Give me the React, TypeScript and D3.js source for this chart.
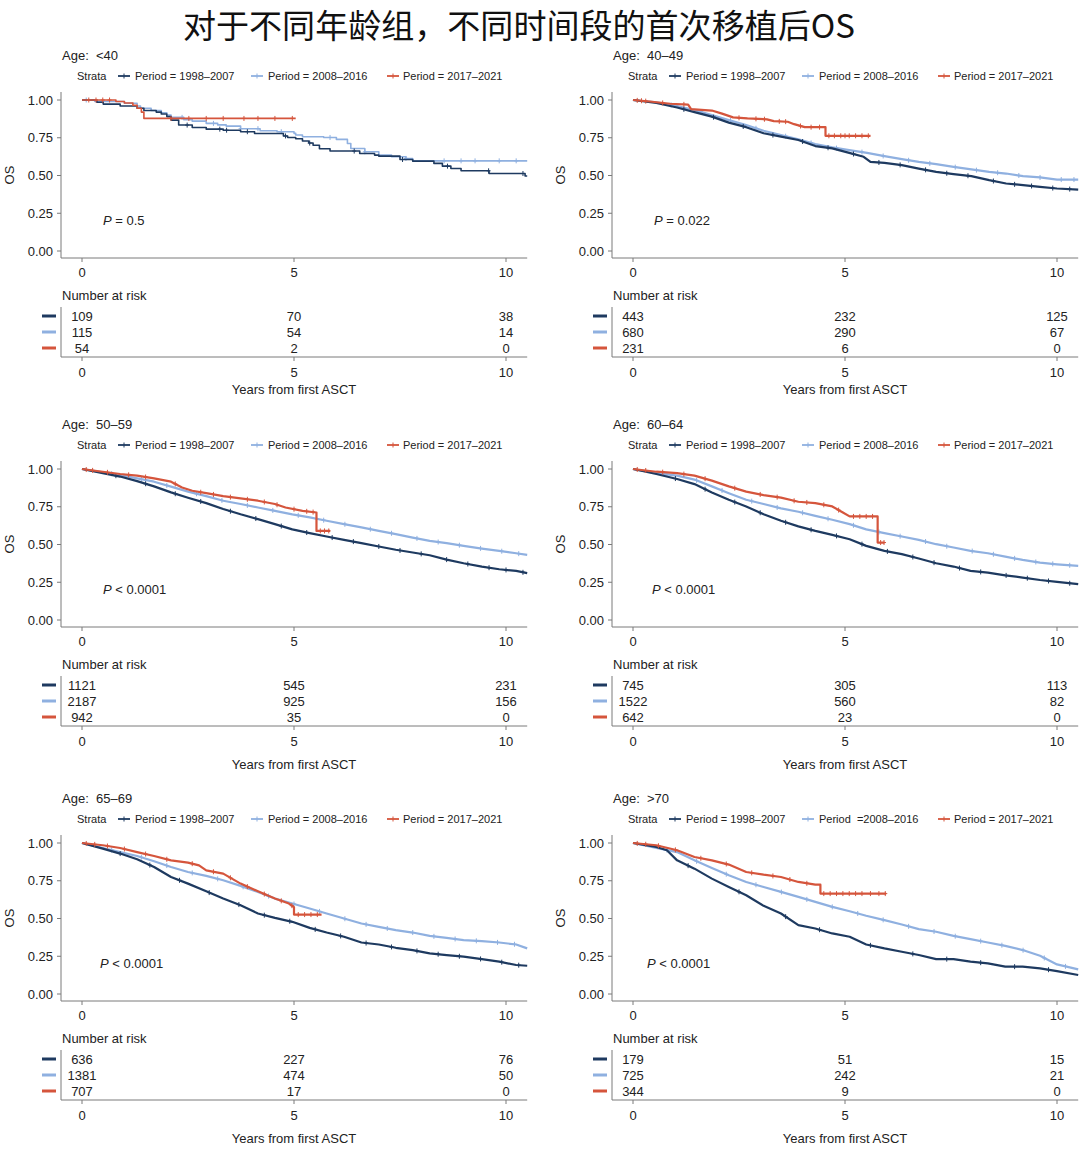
import React from 'react';
import * as d3 from 'd3';

// ---------- DATA ----------
const titleText = '对于不同年龄组，不同时间段的首次移植后OS';
const ageGroups = ['<40', '40–49', '50–59', '60–64', '65–69', '>70'];
const pSigns = ['= 0.5', '= 0.022', '< 0.0001', '< 0.0001', '< 0.0001', '< 0.0001'];
const legendLabels = ['Period = 1998–2007', 'Period = 2008–2016', 'Period = 2017–2021'];
const legendLabelsLast = ['Period = 1998–2007', 'Period  =2008–2016', 'Period = 2017–2021'];
const yTicks = [0, 0.25, 0.5, 0.75, 1];
const xTicks = [0, 5, 10];
const xLabel = 'Years from first ASCT';
const yLabel = 'OS';

// risk tables: rows = periods, cols = years 0/5/10
const risk_lt40 = [[109, 70, 38], [115, 54, 14], [54, 2, 0]];
const risk_40_49 = [[443, 232, 125], [680, 290, 67], [231, 6, 0]];
const risk_50_59 = [[1121, 545, 231], [2187, 925, 156], [942, 35, 0]];
const risk_60_64 = [[745, 305, 113], [1522, 560, 82], [642, 23, 0]];
const risk_65_69 = [[636, 227, 76], [1381, 474, 50], [707, 17, 0]];
const risk_gt70 = [[179, 51, 15], [725, 242, 21], [344, 9, 0]];

// survival curves [years, OS]
// <40 (step curves)
const lt40_a = [[0, 1], [0.35, 0.985], [0.5, 0.973], [0.9, 0.96], [1.3, 0.945], [1.46, 0.93], [1.75, 0.92], [1.87, 0.907], [2.0, 0.89], [2.1, 0.867], [2.28, 0.834], [2.6, 0.818], [2.93, 0.807], [3.33, 0.8], [3.74, 0.79], [4.07, 0.778], [4.75, 0.762], [4.85, 0.752], [5.04, 0.743], [5.2, 0.728], [5.35, 0.715], [5.45, 0.7], [5.6, 0.677], [5.85, 0.662], [6.55, 0.646], [6.9, 0.635], [7.0, 0.628], [7.5, 0.606], [7.8, 0.595], [8.3, 0.58], [8.5, 0.562], [8.7, 0.546], [8.94, 0.531], [9.6, 0.513], [10.45, 0.497], [10.5, 0.497]];
const lt40_b = [[0, 1], [0.3, 0.99], [1.0, 0.978], [1.3, 0.96], [1.38, 0.945], [1.63, 0.93], [1.87, 0.916], [2.0, 0.9], [2.1, 0.885], [2.4, 0.87], [2.6, 0.86], [2.93, 0.845], [3.2, 0.835], [3.4, 0.827], [3.74, 0.81], [4.2, 0.796], [4.6, 0.79], [5.0, 0.779], [5.04, 0.768], [5.2, 0.757], [5.7, 0.752], [6.0, 0.739], [6.26, 0.712], [6.34, 0.679], [6.67, 0.657], [7.0, 0.635], [7.3, 0.624], [7.64, 0.613], [7.8, 0.597], [10.5, 0.597]];
const lt40_c = [[0, 1], [0.8, 0.99], [1.0, 0.98], [1.2, 0.965], [1.3, 0.945], [1.4, 0.92], [1.46, 0.878], [5.04, 0.878]];
const lt40_a_cens = [2.48, 3.25, 3.41, 3.9, 4.8, 5.37, 6.42, 7.56, 8.62, 9.59, 10.4];
const lt40_b_cens = [0.1, 2.36, 3.1, 3.74, 4.15, 4.7, 5.85, 6.67, 7.64, 8.54, 8.94, 9.27, 9.84, 10.24];
const lt40_c_cens = [0.16, 0.33, 0.49, 0.65, 2.1, 2.52, 2.93, 3.33, 3.82, 4.15, 4.55, 4.96];

// 40–49
const a40_a = [[0, 1], [0.55, 0.98], [1.04, 0.95], [1.45, 0.92], [1.86, 0.89], [2.26, 0.85], [2.67, 0.82], [3.08, 0.78], [3.49, 0.757], [3.9, 0.735], [4.3, 0.695], [4.7, 0.68], [5.1, 0.65], [5.44, 0.624], [5.6, 0.59], [5.93, 0.584], [6.34, 0.569], [6.74, 0.546], [7.15, 0.524], [7.56, 0.509], [7.98, 0.496], [8.4, 0.469], [8.8, 0.447], [9.2, 0.436], [9.6, 0.425], [10.0, 0.414], [10.5, 0.407]];
const a40_b = [[0, 1], [0.55, 0.985], [1.04, 0.96], [1.45, 0.934], [1.86, 0.9], [2.26, 0.867], [2.67, 0.834], [3.08, 0.796], [3.49, 0.768], [3.9, 0.739], [4.3, 0.708], [4.7, 0.686], [5.1, 0.668], [5.52, 0.65], [5.93, 0.628], [6.34, 0.608], [6.74, 0.59], [7.15, 0.575], [7.56, 0.557], [7.98, 0.54], [8.4, 0.524], [8.8, 0.513], [9.2, 0.496], [9.6, 0.487], [10.0, 0.473], [10.5, 0.473]];
const a40_c = [[0, 1], [0.4, 0.99], [0.88, 0.975], [1.3, 0.97], [1.37, 0.94], [1.86, 0.93], [2.1, 0.91], [2.36, 0.885], [2.7, 0.878], [3.16, 0.872], [3.32, 0.86], [3.65, 0.856], [3.8, 0.84], [4.05, 0.82], [4.54, 0.82], [4.54, 0.763], [5.6, 0.763]];
const a40_a_cens = [1.2, 1.9, 2.6, 3.3, 4.0, 4.6, 5.2, 5.8, 6.3, 6.9, 7.4, 7.9, 8.5, 9.0, 9.4, 9.9, 10.3];
const a40_b_cens = [0.9, 1.6, 2.3, 2.9, 3.6, 4.2, 4.8, 5.4, 5.9, 6.5, 7.0, 7.6, 8.1, 8.6, 9.1, 9.6, 10.1, 10.4];
const a40_c_cens = [0.1, 0.2, 0.3, 0.7, 1.2, 2.5, 2.9, 3.1, 3.45, 3.6, 3.95, 4.2, 4.4, 4.62, 4.75, 4.9, 5.0, 5.1, 5.25, 5.4, 5.55];

// 50–59
const a50_a = [[0, 1], [0.49, 0.973], [0.9, 0.95], [1.3, 0.92], [1.7, 0.885], [2.1, 0.845], [2.5, 0.81], [2.93, 0.774], [3.33, 0.735], [3.74, 0.7], [4.15, 0.668], [4.55, 0.635], [4.96, 0.6], [5.37, 0.575], [5.77, 0.553], [6.18, 0.531], [6.59, 0.509], [7.0, 0.487], [7.4, 0.465], [7.8, 0.447], [8.2, 0.429], [8.6, 0.4], [9.0, 0.376], [9.43, 0.354], [9.84, 0.336], [10.24, 0.325], [10.5, 0.31]];
const a50_b = [[0, 1], [0.49, 0.978], [0.9, 0.96], [1.3, 0.938], [1.7, 0.916], [2.1, 0.883], [2.5, 0.85], [2.93, 0.82], [3.33, 0.79], [3.74, 0.768], [4.15, 0.745], [4.55, 0.723], [4.96, 0.7], [5.37, 0.68], [5.77, 0.657], [6.18, 0.635], [6.59, 0.613], [7.0, 0.59], [7.4, 0.569], [7.8, 0.546], [8.2, 0.524], [8.6, 0.509], [9.0, 0.491], [9.43, 0.473], [9.84, 0.458], [10.24, 0.442], [10.5, 0.431]];
const a50_c = [[0, 1], [0.49, 0.982], [0.9, 0.967], [1.3, 0.956], [1.7, 0.938], [2.1, 0.916], [2.36, 0.878], [2.6, 0.856], [2.93, 0.84], [3.33, 0.82], [3.74, 0.805], [4.15, 0.79], [4.55, 0.768], [4.8, 0.745], [5.2, 0.723], [5.53, 0.712], [5.53, 0.59], [5.85, 0.59]];
const a50_a_cens = [0.8, 1.5, 2.2, 2.8, 3.5, 4.1, 4.7, 5.3, 5.9, 6.4, 7.0, 7.5, 8.0, 8.6, 9.1, 9.6, 10.0, 10.4];
const a50_b_cens = [0.7, 1.4, 2.0, 2.7, 3.3, 3.9, 4.5, 5.1, 5.7, 6.2, 6.8, 7.3, 7.9, 8.4, 8.9, 9.4, 9.9, 10.3];
const a50_c_cens = [0.1, 0.25, 0.6, 1.1, 1.5, 2.2, 2.8, 3.1, 3.5, 3.9, 4.3, 4.6, 5.0, 5.3, 5.45, 5.62, 5.72, 5.82];

// 60–64
const a60_a = [[0, 1], [0.55, 0.967], [1.04, 0.934], [1.45, 0.9], [1.86, 0.845], [2.26, 0.796], [2.67, 0.752], [3.08, 0.7], [3.49, 0.657], [3.9, 0.62], [4.3, 0.59], [4.7, 0.564], [5.11, 0.535], [5.5, 0.491], [5.93, 0.458], [6.34, 0.436], [6.74, 0.407], [7.15, 0.376], [7.56, 0.354], [7.96, 0.325], [8.37, 0.314], [8.78, 0.296], [9.19, 0.281], [9.6, 0.265], [10.0, 0.252], [10.5, 0.237]];
const a60_b = [[0, 1], [0.55, 0.973], [1.04, 0.956], [1.45, 0.93], [1.86, 0.885], [2.26, 0.84], [2.67, 0.796], [3.08, 0.768], [3.49, 0.739], [3.9, 0.717], [4.3, 0.69], [4.7, 0.664], [5.11, 0.635], [5.5, 0.6], [5.93, 0.575], [6.34, 0.553], [6.74, 0.531], [7.15, 0.502], [7.56, 0.48], [7.96, 0.458], [8.37, 0.442], [8.78, 0.42], [9.19, 0.398], [9.6, 0.38], [10.0, 0.369], [10.5, 0.358]];
const a60_c = [[0, 1], [0.55, 0.982], [1.04, 0.973], [1.45, 0.956], [1.86, 0.923], [2.26, 0.885], [2.67, 0.85], [3.08, 0.827], [3.49, 0.81], [3.9, 0.783], [4.3, 0.774], [4.7, 0.752], [4.95, 0.712], [5.11, 0.686], [5.77, 0.686], [5.77, 0.513], [5.93, 0.513]];
const a60_a_cens = [1.0, 1.7, 2.4, 3.0, 3.6, 4.2, 4.8, 5.4, 6.0, 6.6, 7.1, 7.7, 8.2, 8.8, 9.3, 9.8, 10.3];
const a60_b_cens = [0.8, 1.5, 2.1, 2.8, 3.4, 4.0, 4.6, 5.2, 5.8, 6.3, 6.9, 7.4, 8.0, 8.5, 9.0, 9.5, 9.9, 10.3];
const a60_c_cens = [0.1, 0.3, 0.7, 1.2, 1.7, 2.4, 3.0, 3.4, 3.8, 4.1, 4.5, 4.85, 5.2, 5.35, 5.5, 5.65, 5.84, 5.92];

// 65–69
const a65_a = [[0, 1], [0.49, 0.963], [0.9, 0.93], [1.3, 0.892], [1.7, 0.841], [2.1, 0.775], [2.5, 0.731], [2.93, 0.68], [3.33, 0.632], [3.74, 0.588], [4.15, 0.533], [4.55, 0.504], [4.96, 0.478], [5.37, 0.438], [5.77, 0.407], [6.18, 0.379], [6.59, 0.341], [7.0, 0.328], [7.4, 0.306], [7.8, 0.291], [8.2, 0.269], [8.6, 0.258], [9.0, 0.247], [9.43, 0.231], [9.84, 0.214], [10.24, 0.192], [10.5, 0.187]];
const a65_b = [[0, 1], [0.49, 0.967], [0.9, 0.94], [1.3, 0.914], [1.7, 0.879], [2.1, 0.841], [2.5, 0.808], [2.93, 0.782], [3.33, 0.753], [3.74, 0.716], [4.15, 0.676], [4.55, 0.632], [4.96, 0.599], [5.37, 0.566], [5.77, 0.533], [6.18, 0.5], [6.59, 0.467], [7.0, 0.445], [7.4, 0.423], [7.8, 0.407], [8.2, 0.385], [8.6, 0.372], [9.0, 0.357], [9.43, 0.35], [9.84, 0.341], [10.24, 0.328], [10.5, 0.302]];
const a65_c = [[0, 1], [0.49, 0.985], [0.9, 0.967], [1.3, 0.94], [1.7, 0.914], [2.1, 0.885], [2.5, 0.87], [2.76, 0.852], [2.93, 0.819], [3.33, 0.797], [3.74, 0.731], [4.15, 0.68], [4.55, 0.632], [4.88, 0.599], [5.0, 0.575], [5.0, 0.526], [5.65, 0.526]];
const a65_a_cens = [0.9, 1.6, 2.3, 3.0, 3.7, 4.3, 4.9, 5.5, 6.1, 6.7, 7.3, 7.9, 8.4, 8.9, 9.4, 9.9, 10.3];
const a65_b_cens = [0.7, 1.4, 2.0, 2.6, 3.2, 3.8, 4.4, 5.0, 5.6, 6.2, 6.7, 7.2, 7.8, 8.3, 8.8, 9.3, 9.8, 10.2];
const a65_c_cens = [0.1, 0.3, 0.6, 1.0, 1.5, 2.0, 2.6, 3.1, 3.5, 3.9, 4.3, 4.7, 4.95, 5.1, 5.25, 5.4, 5.55];

// >70
const a70_a = [[0, 1], [0.55, 0.974], [0.8, 0.952], [1.04, 0.885], [1.45, 0.83], [1.86, 0.764], [2.26, 0.709], [2.67, 0.654], [3.08, 0.584], [3.49, 0.533], [3.9, 0.456], [4.3, 0.434], [4.7, 0.401], [5.11, 0.379], [5.5, 0.328], [5.93, 0.302], [6.34, 0.28], [6.74, 0.258], [7.15, 0.231], [7.56, 0.231], [7.96, 0.214], [8.37, 0.203], [8.78, 0.181], [9.19, 0.181], [9.6, 0.17], [10.0, 0.152], [10.5, 0.126]];
const a70_b = [[0, 1], [0.55, 0.967], [1.04, 0.94], [1.45, 0.885], [1.86, 0.835], [2.26, 0.786], [2.67, 0.742], [3.08, 0.709], [3.49, 0.676], [3.9, 0.643], [4.3, 0.61], [4.7, 0.577], [5.11, 0.548], [5.5, 0.518], [5.93, 0.489], [6.34, 0.46], [6.74, 0.43], [7.15, 0.412], [7.56, 0.385], [7.96, 0.363], [8.37, 0.341], [8.78, 0.319], [9.19, 0.291], [9.6, 0.253], [10.0, 0.196], [10.5, 0.163]];
const a70_c = [[0, 1], [0.55, 0.985], [1.04, 0.952], [1.45, 0.907], [1.86, 0.885], [2.26, 0.857], [2.67, 0.808], [3.08, 0.79], [3.49, 0.775], [3.9, 0.742], [4.3, 0.724], [4.42, 0.724], [4.42, 0.665], [5.97, 0.665]];
const a70_a_cens = [1.3, 2.5, 3.6, 4.4, 5.6, 6.6, 7.4, 8.2, 9.0, 9.8];
const a70_b_cens = [0.8, 1.5, 2.2, 2.9, 3.5, 4.1, 4.7, 5.3, 5.9, 6.5, 7.1, 7.6, 8.2, 8.7, 9.2, 9.7, 10.2];
const a70_c_cens = [0.1, 0.3, 0.6, 1.0, 1.6, 2.2, 2.8, 3.3, 3.7, 4.1, 4.5, 4.65, 4.8, 4.95, 5.1, 5.25, 5.4, 5.6, 5.8, 5.95];

const curves = [
  [lt40_a, lt40_b, lt40_c],
  [a40_a, a40_b, a40_c],
  [a50_a, a50_b, a50_c],
  [a60_a, a60_b, a60_c],
  [a65_a, a65_b, a65_c],
  [a70_a, a70_b, a70_c],
];
const censors = [
  [lt40_a_cens, lt40_b_cens, lt40_c_cens],
  [a40_a_cens, a40_b_cens, a40_c_cens],
  [a50_a_cens, a50_b_cens, a50_c_cens],
  [a60_a_cens, a60_b_cens, a60_c_cens],
  [a65_a_cens, a65_b_cens, a65_c_cens],
  [a70_a_cens, a70_b_cens, a70_c_cens],
];
const risks = [risk_lt40, risk_40_49, risk_50_59, risk_60_64, risk_65_69, risk_gt70];
const stepPanels = [true, false, false, false, false, false];

// ---------- STYLE ----------
const COLORS = ['#1e3a60', '#8fb0e0', '#d5553c'];
const FONT = '"Liberation Sans", Arial, Helvetica, sans-serif';
const TXT = '#222';
const AX = '#7a7a7a';
const colX = [0, 551];
const rowY = [0, 369, 743];
const xLabelY = [394, 400, 400];
const pX = [103, 103, 103, 101, 100, 96];

function valueAt(c: number[][], t: number, step: boolean) {
  let v = c[0][1];
  for (let k = 0; k < c.length; k++) {
    if (c[k][0] <= t) {
      v = c[k][1];
      if (!step && k + 1 < c.length && c[k + 1][0] > t) {
        const [t0, s0] = c[k];
        const [t1, s1] = c[k + 1];
        v = s0 + ((s1 - s0) * (t - t0)) / (t1 - t0);
      }
    }
  }
  return v;
}

function Panel({ i }: { i: number }) {
  const ox = colX[i % 2];
  const r = Math.floor(i / 2);
  const oy = rowY[r];
  const x = d3.scaleLinear().domain([0, 10]).range([82 + ox, 506 + ox]);
  const y = d3.scaleLinear().domain([0, 1]).range([251 + oy, 100 + oy]);
  const xEnd = Math.min(x(10.5), 1080);
  const step = stepPanels[i];
  const line = d3
    .line<number[]>()
    .x((d) => x(d[0]))
    .y((d) => y(d[1]))
    .curve(step ? d3.curveStepAfter : d3.curveLinear);
  const labels = i === 5 ? legendLabelsLast : legendLabels;
  const legGlyph = [124, 257, 393];
  const legText = [135, 268, 403];
  const riskRowY = [316, 332, 348];
  const order = [1, 0, 2];
  return (
    <g fontFamily={FONT} fill={TXT}>
      <text x={62 + ox} y={60 + oy} fontSize={13} style={{ whiteSpace: 'pre' }}>
        {'Age:  ' + ageGroups[i]}
      </text>
      {/* legend */}
      <text x={77 + ox} y={80 + oy} fontSize={11}>Strata</text>
      {labels.map((lab, k) => (
        <g key={k}>
          <line x1={legGlyph[k] - 6 + ox} x2={legGlyph[k] + 6 + ox} y1={76 + oy} y2={76 + oy} stroke={COLORS[k]} strokeWidth={1.8} />
          <line x1={legGlyph[k] + ox} x2={legGlyph[k] + ox} y1={73.5 + oy} y2={78.5 + oy} stroke={COLORS[k]} strokeWidth={1} />
          <text x={legText[k] + ox} y={80 + oy} fontSize={11} style={{ whiteSpace: 'pre' }}>{lab}</text>
        </g>
      ))}
      {/* axes */}
      <line x1={61 + ox} x2={61 + ox} y1={92 + oy} y2={258 + oy} stroke={AX} strokeWidth={1} />
      <line x1={61 + ox} x2={xEnd} y1={258 + oy} y2={258 + oy} stroke={AX} strokeWidth={1} />
      {yTicks.map((t) => (
        <g key={t}>
          <line x1={57 + ox} x2={61 + ox} y1={y(t)} y2={y(t)} stroke={AX} />
          <text x={53 + ox} y={y(t) + 4.5} fontSize={13} textAnchor="end">{d3.format('.2f')(t)}</text>
        </g>
      ))}
      {xTicks.map((t) => (
        <g key={t}>
          <line x1={x(t)} x2={x(t)} y1={258 + oy} y2={262 + oy} stroke={AX} />
          <text x={x(t)} y={277 + oy} fontSize={13} textAnchor="middle">{t}</text>
        </g>
      ))}
      <text transform={`translate(${14 + ox},${175 + oy}) rotate(-90)`} fontSize={13} textAnchor="middle">{yLabel}</text>
      {/* curves */}
      {order.map((k) => (
        <g key={k}>
          <path d={line(curves[i][k] as any) || ''} fill="none" stroke={COLORS[k]} strokeWidth={step ? 1.6 : 2.2} strokeLinejoin="round" />
          {censors[i][k].map((t, j) => {
            const cx = x(t);
            const cy = y(valueAt(curves[i][k], t, step));
            return (
              <g key={j} stroke={COLORS[k]} strokeWidth={1}>
                <line x1={cx} x2={cx} y1={cy - 2.5} y2={cy + 2.5} />
                <line x1={cx - 2} x2={cx + 2} y1={cy} y2={cy} />
              </g>
            );
          })}
        </g>
      ))}
      {/* p value */}
      <text x={pX[i] + ox} y={225 + oy} fontSize={13} style={{ whiteSpace: 'pre' }}>
        <tspan fontStyle="italic">P</tspan>
        <tspan>{' ' + pSigns[i]}</tspan>
      </text>
      {/* risk table */}
      <text x={62 + ox} y={300 + oy} fontSize={13}>Number at risk</text>
      <line x1={61 + ox} x2={61 + ox} y1={307 + oy} y2={357 + oy} stroke={AX} />
      <line x1={61 + ox} x2={xEnd} y1={357 + oy} y2={357 + oy} stroke={AX} />
      {risks[i].map((row, k) => (
        <g key={k}>
          <line x1={42 + ox} x2={56 + ox} y1={riskRowY[k] + oy} y2={riskRowY[k] + oy} stroke={COLORS[k]} strokeWidth={3} />
          {row.map((v, j) => (
            <text key={j} x={x(xTicks[j])} y={riskRowY[k] + 4.5 + oy} fontSize={13} textAnchor="middle">{v}</text>
          ))}
        </g>
      ))}
      {xTicks.map((t) => (
        <g key={'r' + t}>
          <line x1={x(t)} x2={x(t)} y1={357 + oy} y2={361 + oy} stroke={AX} />
          <text x={x(t)} y={377 + oy} fontSize={13} textAnchor="middle">{t}</text>
        </g>
      ))}
      <text x={x(5)} y={xLabelY[r] + oy} fontSize={13} textAnchor="middle">{xLabel}</text>
    </g>
  );
}

export default function App() {
  return (
    <svg width={1080} height={1149} style={{ display: 'block', position: 'absolute', left: 0, top: 0, background: '#fff' }}>
      <rect width={1080} height={1149} fill="#fff" />
      <text x={183} y={38} fontSize={33} textLength={672} lengthAdjust="spacingAndGlyphs" fontFamily='"Noto Sans CJK SC", sans-serif' fill="#111">
        {titleText}
      </text>
      {ageGroups.map((_, i) => (
        <Panel key={i} i={i} />
      ))}
    </svg>
  );
}
